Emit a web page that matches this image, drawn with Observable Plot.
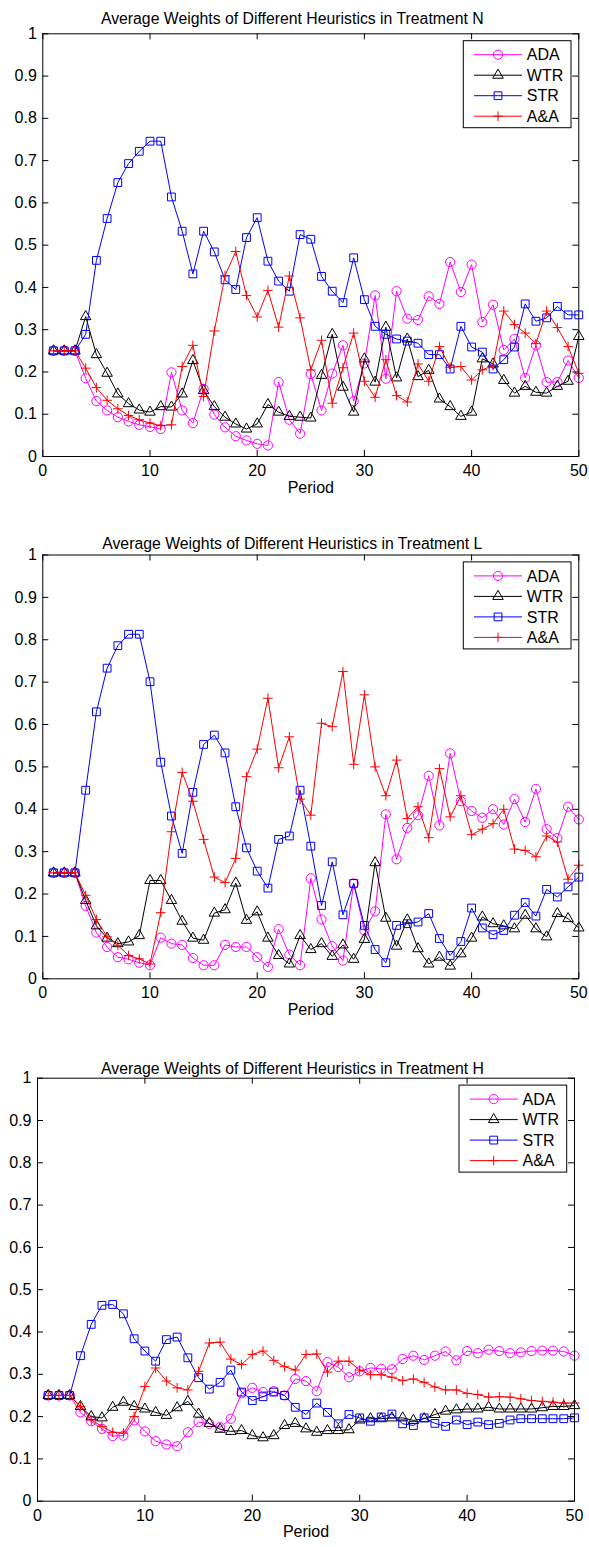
<!DOCTYPE html>
<html><head><meta charset="utf-8">
<script src="https://cdn.jsdelivr.net/npm/d3@7"></script>
<script src="https://cdn.jsdelivr.net/npm/@observablehq/plot@0.6"></script>
<style>
body{margin:0;background:#fff;}
#wrap{position:relative;width:589px;height:1547px;overflow:hidden;background:#fff;}
#wrap svg{position:absolute;left:0;}
</style></head><body><div id="wrap"></div>
<script>
// ---------- data ----------
const periods = d3.range(1, 51);
const seriesNames = ["ADA", "WTR", "STR", "A&A"];
const xTicks = [0, 10, 20, 30, 40, 50];
const yTicks = [0, 0.1, 0.2, 0.3, 0.4, 0.5, 0.6, 0.7, 0.8, 0.9, 1];
const titles = [
  "Average Weights of Different Heuristics in Treatment N",
  "Average Weights of Different Heuristics in Treatment L",
  "Average Weights of Different Heuristics in Treatment H"
];

// Treatment N
const adaN = [0.25,0.25,0.25,0.185,0.131,0.109,0.093,0.083,0.075,0.070,
  0.065,0.199,0.109,0.079,0.160,0.099,0.069,0.048,0.038,0.030,
  0.026,0.176,0.087,0.054,0.195,0.109,0.196,0.263,0.131,0.220,
  0.381,0.184,0.391,0.326,0.323,0.379,0.361,0.460,0.389,0.454,
  0.318,0.359,0.252,0.278,0.186,0.263,0.176,0.176,0.227,0.186];
const wtrN = [0.25,0.25,0.25,0.331,0.241,0.197,0.148,0.125,0.110,0.105,
  0.118,0.117,0.148,0.227,0.156,0.118,0.093,0.077,0.065,0.077,
  0.123,0.105,0.095,0.093,0.091,0.192,0.289,0.164,0.105,0.231,
  0.176,0.306,0.186,0.278,0.189,0.204,0.136,0.118,0.095,0.105,
  0.231,0.219,0.180,0.150,0.166,0.152,0.150,0.166,0.178,0.284];
const strN = [0.25,0.25,0.25,0.289,0.464,0.563,0.648,0.693,0.722,0.746,
  0.746,0.614,0.533,0.432,0.533,0.484,0.418,0.395,0.518,0.565,
  0.462,0.415,0.391,0.525,0.514,0.426,0.391,0.364,0.470,0.371,
  0.308,0.289,0.278,0.273,0.268,0.241,0.241,0.207,0.308,0.259,
  0.247,0.207,0.229,0.259,0.361,0.320,0.328,0.355,0.335,0.335];
const aaN = [0.25,0.25,0.25,0.209,0.163,0.133,0.113,0.097,0.087,0.079,
  0.073,0.075,0.213,0.263,0.142,0.297,0.428,0.485,0.381,0.330,
  0.393,0.306,0.427,0.328,0.205,0.275,0.126,0.210,0.292,0.178,
  0.140,0.229,0.144,0.129,0.219,0.178,0.260,0.211,0.213,0.181,
  0.205,0.215,0.344,0.312,0.292,0.267,0.344,0.305,0.260,0.197];

// Treatment L
const adaL = [0.25,0.25,0.25,0.172,0.109,0.075,0.051,0.046,0.038,0.032,
  0.097,0.083,0.080,0.049,0.032,0.032,0.080,0.075,0.075,0.051,
  0.028,0.117,0.057,0.032,0.237,0.140,0.077,0.043,0.225,0.114,
  0.159,0.388,0.282,0.356,0.386,0.479,0.362,0.532,0.419,0.396,
  0.380,0.400,0.364,0.424,0.370,0.448,0.353,0.332,0.406,0.376];
const wtrL = [0.25,0.25,0.25,0.185,0.125,0.096,0.083,0.087,0.102,0.232,
  0.232,0.185,0.136,0.096,0.091,0.155,0.163,0.226,0.138,0.158,
  0.096,0.055,0.035,0.102,0.069,0.083,0.053,0.080,0.046,0.093,
  0.274,0.143,0.077,0.139,0.071,0.035,0.051,0.030,0.059,0.096,
  0.146,0.130,0.125,0.118,0.150,0.118,0.099,0.154,0.142,0.120];
const strL = [0.25,0.25,0.25,0.445,0.630,0.733,0.786,0.813,0.813,0.701,
  0.511,0.384,0.296,0.440,0.553,0.575,0.533,0.406,0.309,0.254,
  0.214,0.329,0.337,0.445,0.313,0.173,0.276,0.151,0.225,0.126,
  0.069,0.038,0.126,0.130,0.134,0.154,0.095,0.055,0.088,0.167,
  0.120,0.104,0.114,0.150,0.180,0.148,0.211,0.193,0.217,0.240];
const aaL = [0.25,0.25,0.25,0.197,0.140,0.099,0.079,0.055,0.047,0.035,
  0.156,0.347,0.487,0.419,0.329,0.240,0.227,0.284,0.477,0.542,
  0.662,0.498,0.571,0.424,0.386,0.603,0.595,0.725,0.506,0.670,
  0.500,0.432,0.516,0.378,0.406,0.333,0.496,0.382,0.432,0.340,
  0.353,0.366,0.400,0.306,0.303,0.288,0.337,0.323,0.235,0.268];

// Treatment H
const adaH = [0.25,0.25,0.25,0.210,0.189,0.171,0.154,0.155,0.191,0.165,
  0.142,0.134,0.130,0.163,0.187,0.183,0.175,0.195,0.255,0.268,
  0.258,0.260,0.250,0.289,0.284,0.260,0.329,0.317,0.293,0.307,
  0.315,0.313,0.312,0.336,0.344,0.334,0.344,0.354,0.333,0.355,
  0.350,0.358,0.355,0.350,0.352,0.355,0.356,0.356,0.354,0.344];
const wtrH = [0.25,0.25,0.25,0.224,0.200,0.197,0.222,0.234,0.224,0.218,
  0.210,0.203,0.221,0.236,0.206,0.184,0.170,0.165,0.167,0.155,
  0.150,0.155,0.179,0.184,0.171,0.163,0.167,0.167,0.169,0.192,
  0.195,0.195,0.197,0.197,0.191,0.195,0.205,0.213,0.216,0.218,
  0.218,0.222,0.218,0.218,0.218,0.218,0.221,0.224,0.224,0.226];
const strH = [0.25,0.25,0.25,0.344,0.418,0.463,0.465,0.443,0.384,0.355,
  0.331,0.382,0.388,0.339,0.292,0.265,0.281,0.310,0.258,0.238,
  0.247,0.258,0.250,0.222,0.205,0.232,0.210,0.183,0.205,0.197,
  0.189,0.199,0.206,0.183,0.179,0.197,0.184,0.177,0.192,0.181,
  0.187,0.181,0.184,0.192,0.195,0.195,0.195,0.195,0.195,0.197];
const aaH = [0.25,0.25,0.25,0.224,0.192,0.177,0.163,0.161,0.200,0.271,
  0.315,0.284,0.268,0.263,0.307,0.374,0.376,0.336,0.323,0.347,
  0.355,0.333,0.318,0.310,0.347,0.348,0.305,0.331,0.331,0.310,
  0.299,0.299,0.293,0.285,0.289,0.281,0.270,0.263,0.263,0.255,
  0.252,0.246,0.247,0.246,0.242,0.238,0.236,0.234,0.232,0.232];

const panelSeries = [
  [adaN, wtrN, strN, aaN],
  [adaL, wtrL, strL, aaL],
  [adaH, wtrH, strH, aaH]
];

// ---------- styles ----------
const FONT = "'Liberation Sans', Arial, Helvetica, sans-serif";
const FS = 16;      // tick labels, axis label, legend
const TFS = 15.8;   // title
const styleOf = {
  "ADA": {color: "#ff00ff", symbol: "circle", r: 4.6},
  "WTR": {color: "#000000", symbol: "triangle", r: 3.9},
  "STR": {color: "#0000ff", symbol: "square", r: 4.4},
  "A&A": {color: "#ff0000", symbol: "plus", r: 3.2}
};
const layout = [
  {top: 0,    height: 522, mt: 33.3, mb: 66,   ml: 42.3, mr: 10.7, titleDy: -21, titleDx: -18.5},
  {top: 522,  height: 522, mt: 32.5, mb: 65.7, ml: 42.3, mr: 10.7, titleDy: -17, titleDx: -18.5},
  {top: 1044, height: 503, mt: 33.7, mb: 46.3, ml: 37,   mr: 15,   titleDy: -15, titleDx: -13.5}
];

function legendMark() {
  return (index, scales, values, dims) => {
    const g = d3.create("svg:g");
    const right = dims.width - dims.marginRight;
    const top = dims.marginTop;
    const bw = 107.7, bh = 87;
    const bx = right - 7.3 - bw, by = top + 7.4;
    g.append("rect").attr("x", bx).attr("y", by).attr("width", bw).attr("height", bh)
      .attr("fill", "white").attr("stroke", "black").attr("stroke-width", 1);
    const offs = [14, 34.5, 55, 75.5];
    seriesNames.forEach((name, i) => {
      const s = styleOf[name];
      const y = by + offs[i];
      g.append("line").attr("x1", bx + 10.7).attr("x2", bx + 58.7).attr("y1", y).attr("y2", y)
        .attr("stroke", s.color).attr("stroke-width", 1);
      if (s.symbol === "circle") {
        g.append("circle").attr("cx", bx + 34.7).attr("cy", y).attr("r", s.r)
          .attr("fill", "none").attr("stroke", s.color);
      } else {
        const sym = {triangle: d3.symbolTriangle, square: d3.symbolSquare, plus: d3.symbolPlus}[s.symbol];
        g.append("path").attr("transform", `translate(${bx + 34.7},${y})`)
          .attr("d", d3.symbol(sym, s.r * s.r * Math.PI)())
          .attr("fill", "none").attr("stroke", s.color);
      }
      g.append("text").attr("x", bx + 63.5).attr("y", y).attr("dy", "0.36em")
        .attr("text-anchor", "start")
        .attr("font-size", FS).attr("font-family", FONT).attr("fill", "black").text(name);
    });
    return g.node();
  };
}

const wrap = document.getElementById("wrap");
const fmt = d => d3.format("~g")(d);

panelSeries.forEach((arrs, pi) => {
  const L = layout[pi];
  const fw = 589 - L.ml - L.mr;
  const fh = L.height - L.mt - L.mb;
  const marks = [];
  arrs.forEach((vals, si) => {
    const name = seriesNames[si];
    const s = styleOf[name];
    const rows = periods.map((p, i) => ({period: p, value: vals[i]}));
    marks.push(Plot.line(rows, {x: "period", y: "value", stroke: s.color, strokeWidth: 1}));
    marks.push(Plot.dot(rows, {x: "period", y: "value", symbol: () => s.symbol, r: s.r,
      stroke: s.color, fill: "none", strokeWidth: 1}));
  });
  // inward ticks on all four sides
  marks.push(Plot.tickY(yTicks, {y: d => d, insetRight: fw - 6, stroke: "black"}));
  marks.push(Plot.tickY(yTicks, {y: d => d, insetLeft: fw - 6, stroke: "black"}));
  marks.push(Plot.tickX(xTicks, {x: d => d, insetTop: fh - 6, stroke: "black"}));
  marks.push(Plot.tickX(xTicks, {x: d => d, insetBottom: fh - 6, stroke: "black"}));
  marks.push(Plot.frame({stroke: "black", strokeWidth: 1}));
  marks.push(Plot.axisY(yTicks, {tickSize: 0, tickPadding: 6, tickFormat: fmt, label: null, fontSize: FS}));
  marks.push(Plot.axisX(xTicks, {tickSize: 0, tickPadding: 8, tickFormat: fmt, label: null, fontSize: FS}));
  marks.push(Plot.text([titles[pi]], {frameAnchor: "top", text: d => d, dy: L.titleDy, dx: L.titleDx, fontSize: TFS, fill: "black"}));
  marks.push(Plot.text(["Period"], {frameAnchor: "bottom", text: d => d, dy: 36, fontSize: FS, fill: "black"}));
  marks.push(legendMark());

  const svg = Plot.plot({
    width: 589,
    height: L.height,
    marginTop: L.mt, marginBottom: L.mb, marginLeft: L.ml, marginRight: L.mr,
    x: {domain: [0, 50]},
    y: {domain: [0, 1]},
    symbol: {type: "identity"},
    style: {fontFamily: FONT, fontSize: FS + "px", color: "black", background: "white", overflow: "visible"},
    marks
  });
  svg.style.top = L.top + "px";
  wrap.appendChild(svg);
});
</script>
</body></html>
